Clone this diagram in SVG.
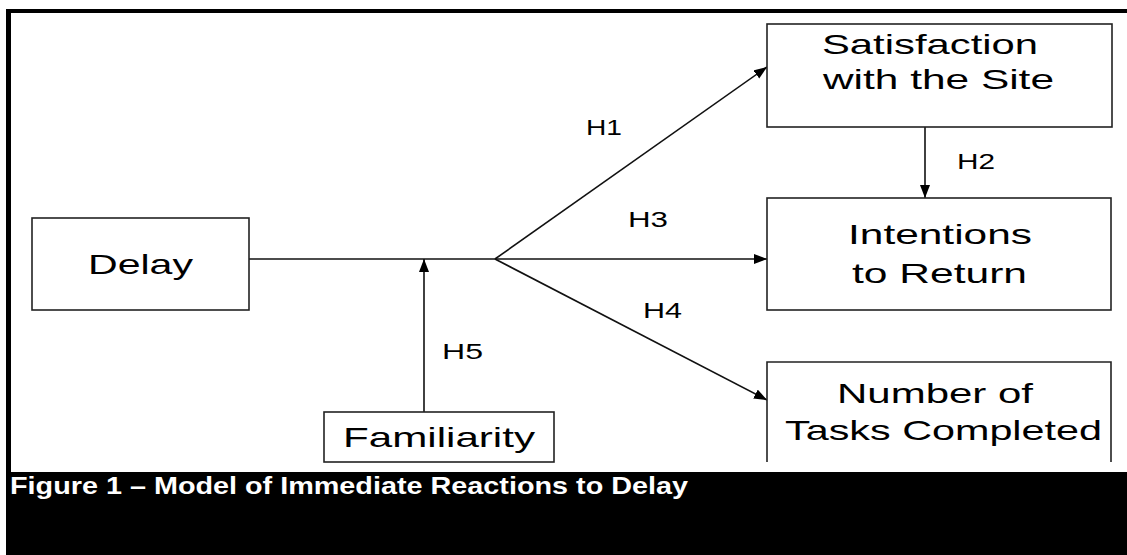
<svg xmlns="http://www.w3.org/2000/svg" width="1127" height="555" viewBox="0 0 1127 555">
<defs>
<style>
.box{fill:#fff;stroke:#222;stroke-width:1.6}
.lbl{font-family:"Liberation Sans",Arial,sans-serif;font-size:28px;fill:#000}
.h{font-family:"Liberation Sans",Arial,sans-serif;font-size:22px;fill:#000}
.conn line{stroke:#111;stroke-width:1.6;fill:none}
.cap{font-family:"Liberation Sans",Arial,sans-serif;font-size:24px;font-weight:bold;fill:#fff}
</style>
<marker id="arr" markerUnits="userSpaceOnUse" markerWidth="14" markerHeight="11" refX="13" refY="5" orient="auto">
<path d="M0,0 L13,5 L0,10 z" fill="#000"/>
</marker>
</defs>
<rect x="0" y="0" width="1127" height="555" fill="#fff"/>
<rect x="6" y="9" width="1121" height="546" fill="#000"/>
<rect x="11" y="13" width="1116" height="459" fill="#fff"/>

<g id="connectors" class="conn">
<line x1="249" y1="259" x2="495" y2="259"/>
<line x1="495" y1="259" x2="767" y2="67" marker-end="url(#arr)"/>
<line x1="495" y1="259" x2="767" y2="259" marker-end="url(#arr)"/>
<line x1="495" y1="259" x2="767" y2="400" marker-end="url(#arr)"/>
<line x1="925" y1="127" x2="925" y2="198" marker-end="url(#arr)"/>
<line x1="424" y1="412" x2="424" y2="259" marker-end="url(#arr)"/>
</g>

<g id="delay">
<rect class="box" x="32" y="218" width="217" height="92"/>
<text class="lbl" x="88" y="274" textLength="105" lengthAdjust="spacingAndGlyphs">Delay</text>
</g>
<g id="satisfaction">
<rect class="box" x="767" y="24" width="345" height="103"/>
<text class="lbl" x="822" y="54" textLength="216" lengthAdjust="spacingAndGlyphs">Satisfaction</text>
<text class="lbl" x="823" y="89" textLength="231" lengthAdjust="spacingAndGlyphs">with the Site</text>
</g>
<g id="intentions">
<rect class="box" x="767" y="198" width="344" height="112"/>
<text class="lbl" x="848" y="244" textLength="184" lengthAdjust="spacingAndGlyphs">Intentions</text>
<text class="lbl" x="852" y="283" textLength="175" lengthAdjust="spacingAndGlyphs">to Return</text>
</g>
<g id="tasks">
<path d="M767,462 L767,362 L1111,362 L1111,462" fill="#fff" stroke="#222" stroke-width="1.6"/>
<text class="lbl" x="837" y="403" textLength="196" lengthAdjust="spacingAndGlyphs">Number of</text>
<text class="lbl" x="785" y="440" textLength="317" lengthAdjust="spacingAndGlyphs">Tasks Completed</text>
</g>
<g id="familiarity">
<rect class="box" x="324" y="412" width="230" height="50"/>
<text class="lbl" x="343" y="447" textLength="192" lengthAdjust="spacingAndGlyphs">Familiarity</text>
</g>
<g id="labels">
<text class="h" x="586" y="135" textLength="36" lengthAdjust="spacingAndGlyphs">H1</text>
<text class="h" x="957" y="169" textLength="38" lengthAdjust="spacingAndGlyphs">H2</text>
<text class="h" x="628" y="227" textLength="40" lengthAdjust="spacingAndGlyphs">H3</text>
<text class="h" x="643" y="318" textLength="39" lengthAdjust="spacingAndGlyphs">H4</text>
<text class="h" x="442" y="359" textLength="41" lengthAdjust="spacingAndGlyphs">H5</text>
</g>
<text class="cap" x="10" y="494" textLength="678" lengthAdjust="spacingAndGlyphs">Figure 1 – Model of Immediate Reactions to Delay</text>
</svg>
